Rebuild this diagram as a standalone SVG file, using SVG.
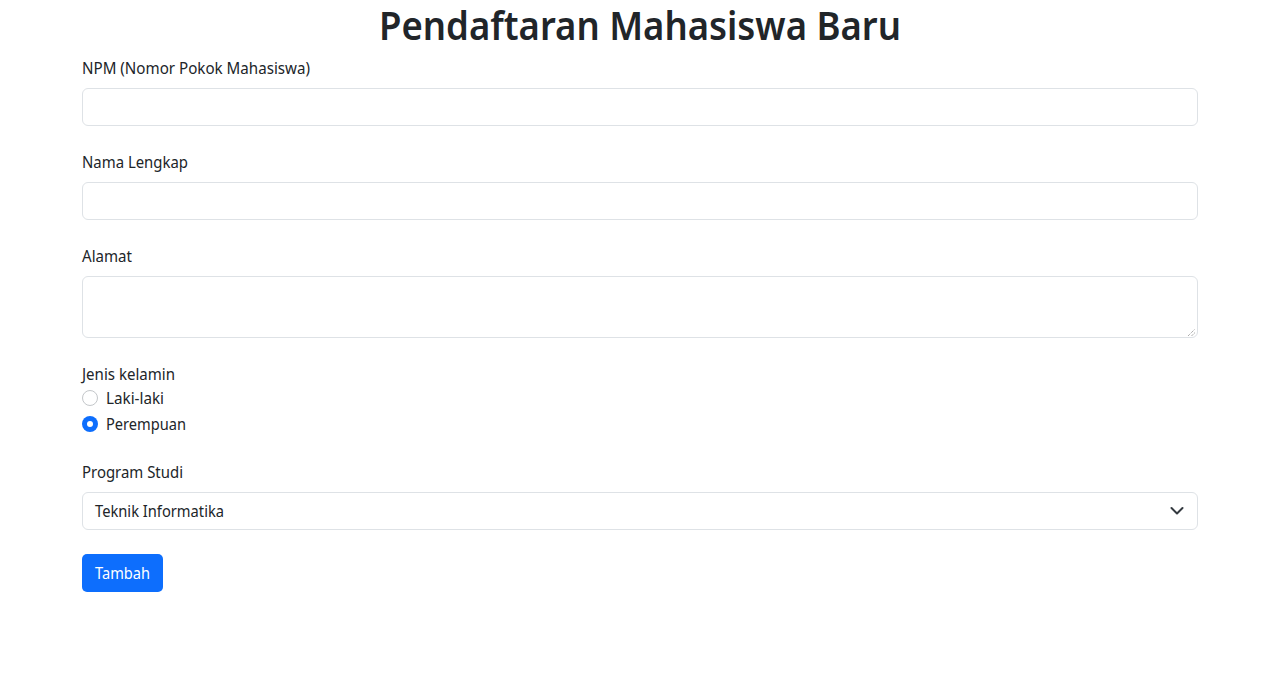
<svg xmlns="http://www.w3.org/2000/svg" width="1280" height="695" viewBox="0 0 1280 695">
<style>
  text { font-family: "Noto Sans", "Open Sans", "Liberation Sans", sans-serif; fill: #212529; }
  .lbl { font-size: 15.5px; }
  .ctl { fill: #ffffff; stroke: #dee2e6; stroke-width: 1; }
  .title { font-size: 39px; font-weight: 600; }
</style>
<rect x="0" y="0" width="1280" height="695" fill="#ffffff"/>
<g id="title">
  <text class="title" x="640" y="40" text-anchor="middle" textLength="522" lengthAdjust="spacingAndGlyphs">Pendaftaran Mahasiswa Baru</text>
</g>
<g id="npm">
  <text class="lbl" x="82" y="74" textLength="228" lengthAdjust="spacingAndGlyphs">NPM (Nomor Pokok Mahasiswa)</text>
  <rect class="ctl" x="82.5" y="88.5" width="1115" height="37" rx="5.5"/>
</g>
<g id="nama">
  <text class="lbl" x="82" y="168" textLength="106" lengthAdjust="spacingAndGlyphs">Nama Lengkap</text>
  <rect class="ctl" x="82.5" y="182.5" width="1115" height="37" rx="5.5"/>
</g>
<g id="alamat">
  <text class="lbl" x="82" y="262" textLength="50" lengthAdjust="spacingAndGlyphs">Alamat</text>
  <rect class="ctl" x="82.5" y="276.5" width="1115" height="61" rx="5.5"/>
  <path d="M1188 336 L1195 329 M1191.5 336 L1195 332.5" stroke="#8a8a8a" stroke-width="1" stroke-dasharray="1 1" fill="none"/>
</g>
<g id="jenis-kelamin">
  <text class="lbl" x="82" y="380" textLength="93" lengthAdjust="spacingAndGlyphs">Jenis kelamin</text>
  <circle cx="90" cy="398" r="7.5" fill="#ffffff" stroke="#c4c7ca" stroke-width="1"/>
  <text class="lbl" x="106" y="404" textLength="58" lengthAdjust="spacingAndGlyphs">Laki-laki</text>
  <circle cx="90" cy="424" r="8" fill="#0d6efd"/>
  <circle cx="90" cy="424" r="3" fill="#ffffff"/>
  <text class="lbl" x="106" y="430" textLength="80" lengthAdjust="spacingAndGlyphs">Perempuan</text>
</g>
<g id="program-studi">
  <text class="lbl" x="82" y="478" textLength="101" lengthAdjust="spacingAndGlyphs">Program Studi</text>
  <rect class="ctl" x="82.5" y="492.5" width="1115" height="37" rx="5.5"/>
  <text class="lbl" x="95" y="517" textLength="129" lengthAdjust="spacingAndGlyphs">Teknik Informatika</text>
  <path d="M1171.5 508 L1177 513.5 L1182.5 508" stroke="#343a40" stroke-width="2" fill="none" stroke-linecap="round" stroke-linejoin="round"/>
</g>
<g id="tambah">
  <rect x="82" y="554" width="81" height="38" rx="5" fill="#0d6efd"/>
  <text class="lbl" x="122.5" y="579" text-anchor="middle" style="fill:#ffffff" textLength="55" lengthAdjust="spacingAndGlyphs">Tambah</text>
</g>
<g id="connectors"/>
</svg>
